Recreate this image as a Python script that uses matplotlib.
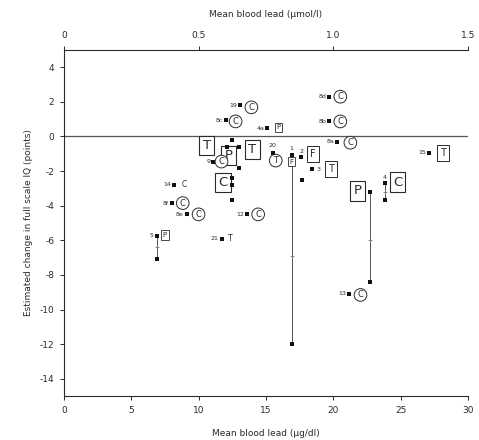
import matplotlib
matplotlib.use('Agg')
import matplotlib.pyplot as plt

plt.rcParams['font.family'] = ['DejaVu Sans']
plt.rcParams['axes.unicode_minus'] = False

# ---------------- data ----------------
# labelled study estimates (blood lead ug/dl, change in IQ)
study_ids    = ["19", "8c", "4a", "8d", "8b", "8a", "15", "20", "1", "2", "3",
                "9", "14", "8f", "8e", "5", "12", "21", "13", "4", ""]
study_x      = [13.1, 12.0, 15.1, 19.7, 19.7, 20.3, 27.1, 15.5, 16.9, 17.6, 18.4,
                11.1, 8.2, 8.0, 9.1, 6.9, 13.6, 11.7, 21.2, 23.8, 22.7]
study_y      = [1.8, 0.93, 0.47, 2.3, 0.87, -0.3, -0.93, -0.93, -1.05, -1.2, -1.9,
                -1.45, -2.8, -3.85, -4.5, -5.75, -4.5, -5.9, -9.1, -2.7, -3.2]
study_letter = ["C", "C", "P", "C", "C", "C", "T", "T", "F", "F", "T",
                "C", "C", "C", "C", "P", "C", "T", "C", "C", "P"]
study_frame  = ["circle", "circle", "sbox", "circle", "circle", "circle", "mbox",
                "circle", "sbox", "mbox", "mbox", "circle", "none", "circle",
                "circle", "sbox", "circle", "none", "circle", "bbox", "bbox"]

# additional unlabelled estimates
extra_x = [12.5, 12.1, 13.0, 13.0, 12.5, 12.5, 12.5, 17.7, 16.9, 22.7, 6.9, 23.8]
extra_y = [-0.23, -0.58, -0.58, -1.8, -2.4, -2.8, -3.66, -2.5, -12.0, -8.4, -7.1, -3.66]

# pooled estimates shown as large boxed letters
pooled_letter = ["T", "T", "P", "C"]
pooled_x      = [10.6, 14.0, 12.2, 11.8]
pooled_y      = [-0.52, -0.76, -1.1, -2.67]

# ranges joined by vertical lines (x, upper, lower, centre)
range_x     = [16.9, 22.7, 6.9, 23.8]
range_top   = [-1.05, -3.2, -5.75, -2.7]
range_bot   = [-12.0, -8.4, -7.1, -3.66]
range_mid   = [-6.9, -6.0, -6.4, -3.2]

x_ticks = [0, 5, 10, 15, 20, 25, 30]
y_ticks = [4, 2, 0, -2, -4, -6, -8, -10, -12, -14]
top_ticks = [0, 0.5, 1.0, 1.5]
top_tick_labels = ["0", "0.5", "1.0", "1.5"]

# ---------------- layout / style ----------------
INK = '#2a2a2a'
letter_offsets = {  # pixel offsets of the letter from the point
    "19": (11, -2), "8c": (10, -1), "4a": (11, 1), "8d": (11, 0), "8b": (11, 0),
    "8a": (13, -1), "15": (14, 0), "20": (3, -8), "1": (0, -7), "2": (12, 3),
    "3": (19, 0), "9": (8, 0), "14": (10, 0), "8f": (11, 0), "8e": (12, 0),
    "5": (8, 1), "12": (11, 0), "21": (9, 0), "13": (11, -1), "4": (13, 1),
    "": (-12, 1),
}
frame_styles = {
    "circle": dict(fontsize=6, bbox=dict(boxstyle='circle,pad=0.22', fc='white', ec=INK, lw=0.7)),
    "sbox": dict(fontsize=5, bbox=dict(boxstyle='square,pad=0.25', fc='white', ec=INK, lw=0.6)),
    "mbox": dict(fontsize=7, bbox=dict(boxstyle='square,pad=0.3', fc='white', ec=INK, lw=0.7)),
    "bbox": dict(fontsize=9.5, bbox=dict(boxstyle='square,pad=0.25', fc='white', ec=INK, lw=0.8)),
    "none": dict(fontsize=5.5),
}

fig = plt.figure(figsize=(4.79, 4.4), dpi=100)
ax = fig.add_axes([64 / 479, 44 / 440, 404 / 479, 346 / 440])
ax.set_xlim(0, 30)
ax.set_ylim(-15, 5)

for s in ['right', 'top']:
    ax.spines[s].set_visible(False)
for s in ['left', 'bottom']:
    ax.spines[s].set_color(INK)
    ax.spines[s].set_linewidth(0.8)

ax.axhline(0, color='#555555', lw=0.9, zorder=1)

# range lines
for x, t, b, m in zip(range_x, range_top, range_bot, range_mid):
    ax.plot([x, x], [t, b], color='#555555', lw=0.7, zorder=2)
    ax.plot([x], [m], marker='+', color='#777777', ms=3.5, mew=0.6, zorder=3)

# pooled boxes
for l, x, y in zip(pooled_letter, pooled_x, pooled_y):
    ax.text(x, y, l, ha='center', va='center', color=INK, zorder=4,
            **frame_styles["bbox"])

# study letters
for sid, x, y, l, f in zip(study_ids, study_x, study_y, study_letter, study_frame):
    dx, dy = letter_offsets[sid]
    ax.annotate(l, xy=(x, y), xytext=(dx, dy), textcoords='offset pixels',
                ha='center', va='center', color=INK, zorder=5, **frame_styles[f])
    if sid:
        if sid in ("1", "2", "4"):
            ax.annotate(sid, xy=(x, y), xytext=(0, 6), textcoords='offset pixels',
                        ha='center', va='center', fontsize=4.5, color=INK, zorder=6)
        elif sid == "3":
            ax.annotate(sid, xy=(x, y), xytext=(7, 0), textcoords='offset pixels',
                        ha='center', va='center', fontsize=4.5, color=INK, zorder=6)
        elif sid == "20":
            ax.annotate(sid, xy=(x, y), xytext=(0, 7), textcoords='offset pixels',
                        ha='center', va='center', fontsize=4.5, color=INK, zorder=6)
        else:
            ax.annotate(sid, xy=(x, y), xytext=(-3, 0), textcoords='offset pixels',
                        ha='right', va='center', fontsize=4.5, color=INK, zorder=6)

# points
ax.scatter(study_x, study_y, marker='s', s=10, color='#111111', zorder=7, linewidths=0)
ax.scatter(extra_x, extra_y, marker='s', s=10, color='#111111', zorder=7, linewidths=0)

ax.set_xticks(x_ticks)
ax.set_xticklabels([str(v) for v in x_ticks])
ax.set_yticks(y_ticks)
ax.set_yticklabels([str(v) for v in y_ticks])
ax.tick_params(axis='both', direction='out', length=3, width=0.7, colors=INK,
               labelsize=6.5, pad=4)
ax.set_xlabel('Mean blood lead (µg/dl)', fontsize=6.5, color=INK, labelpad=10)
ax.set_ylabel('Estimated change in full scale IQ (points)', fontsize=6.5, color=INK,
              labelpad=5)

sec = ax.secondary_xaxis('top', functions=(lambda v: v / 20.0, lambda v: v * 20.0))
sec.set_xticks(top_ticks)
sec.set_xticklabels(top_tick_labels)
sec.spines['top'].set_color(INK)
sec.spines['top'].set_linewidth(0.8)
sec.tick_params(axis='x', direction='out', length=3, width=0.7, colors=INK,
                labelsize=6.5, pad=4)
sec.set_xlabel('Mean blood lead (µmol/l)', fontsize=6.5, color=INK, labelpad=10)

fig.savefig('out.png', dpi=100)
